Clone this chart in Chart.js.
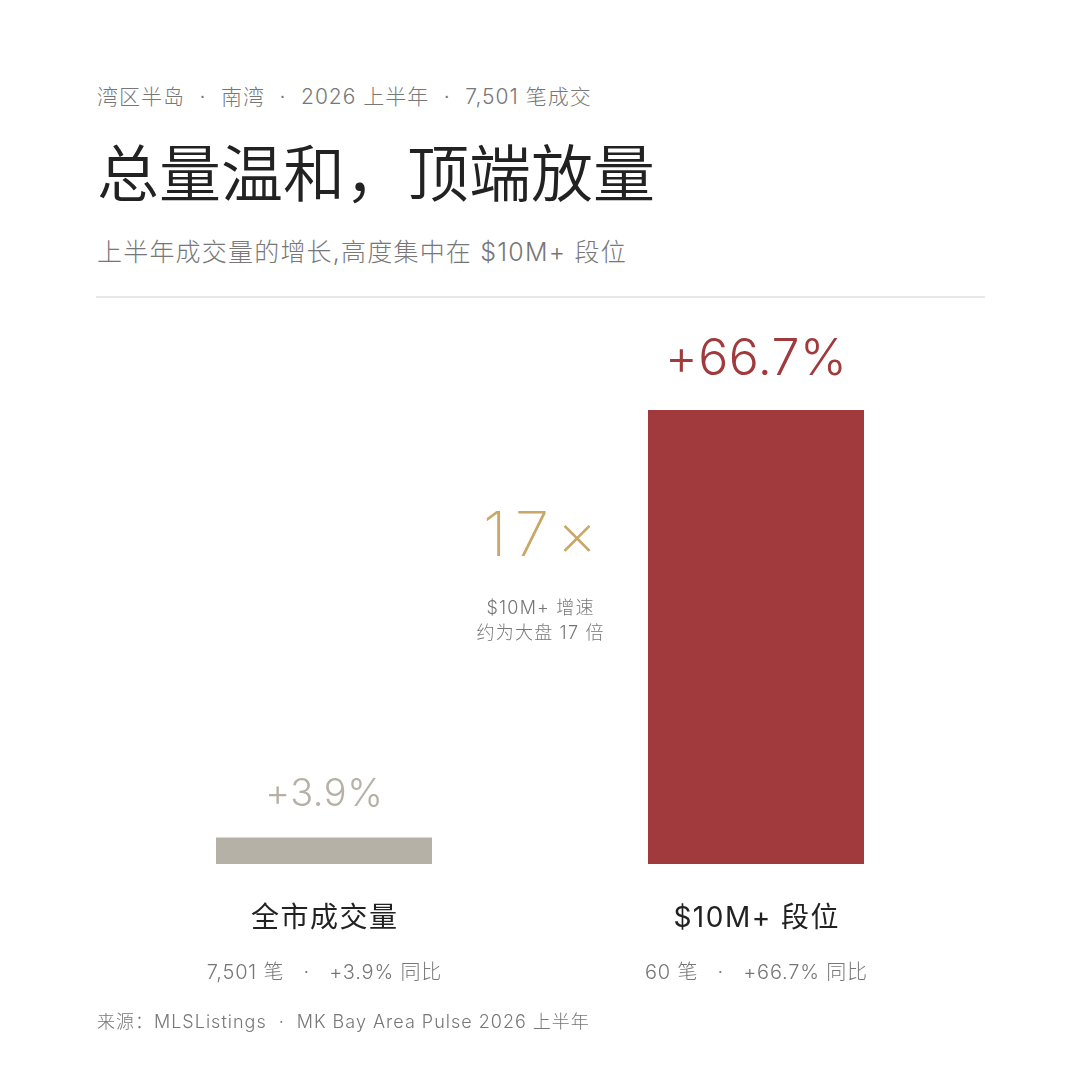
<!DOCTYPE html>
<html>
<head>
<meta charset="utf-8">
<script src="https://cdn.jsdelivr.net/npm/chart.js@4"></script>
<style>
    html, body { margin: 0; padding: 0; background: #fff; }
    body { width: 1080px; height: 1080px; position: relative; overflow: hidden;
           font-family: Inter, "Noto Sans CJK SC", sans-serif; font-weight: 300; }
    .txt { position: absolute; left: 97px; white-space: nowrap; }
    .sep { display: inline-block; width: 36px; text-align: center; }
    #kicker { top: 80px; font-size: 21px; color: #777; letter-spacing: 1px; }
    #title { top: 125px; font-size: 62px; color: #222; font-weight: 350; }
    #sub { top: 232px; font-size: 25px; color: #777; letter-spacing: 1.2px; }
    #rule { position: absolute; left: 96px; top: 296px; width: 889px; height: 2px; background: #e8e8e8; }
    #source { top: 1007px; font-size: 18px; color: #777; letter-spacing: 1px; }
    #chartWrap { position: absolute; left: 0; top: 0; width: 1080px; height: 1080px; }
</style>
</head>
<body>
<div class="txt" id="kicker">湾区半岛<span class="sep">·</span>南湾<span class="sep">·</span>2026 上半年<span class="sep">·</span>7,501 笔成交</div>
<div class="txt" id="title">总量温和，顶端放量</div>
<div class="txt" id="sub">上半年成交量的增长,高度集中在 $10M+ 段位</div>
<div id="rule"></div>
<div id="chartWrap"><canvas id="growthChart" width="1080" height="1080"></canvas></div>
<div class="txt" id="source">来源：MLSListings<span class="sep" style="width:30px">·</span>MK Bay Area Pulse 2026 上半年</div>

<script>
// Chart data
const categories = ['全市成交量', '$10M+ 段位'];
const growthPct = [3.9, 66.7];
const dealCounts = ['7,501', '60'];
const valueLabels = ['+3.9%', '+66.7%'];
const barColors = ['#b6b1a7', '#a03a3c'];
const labelColors = ['#b6b1a7', '#a03a3c'];
const ratioLabel = '17×';
const ratioNote = ['$10M+ 增速', '约为大盘 17 倍'];

const FONT = 'Inter, "Noto Sans CJK SC", sans-serif';

// centred text with letter spacing (canvas adds trailing spacing, so shift back)
function spacedText(ctx, text, x, y, spacing) {
    ctx.letterSpacing = spacing + 'px';
    ctx.fillText(text, x + spacing / 2, y);
    ctx.letterSpacing = '0px';
}

// draws value labels, category names and the middle annotation
const labelPlugin = {
    id: 'labels',
    afterDatasetsDraw(chart) {
        const ctx = chart.ctx;
        const meta = chart.getDatasetMeta(0);
        const xScale = chart.scales.x;
        ctx.save();
        ctx.textAlign = 'center';
        ctx.textBaseline = 'middle';

        meta.data.forEach((bar, i) => {
            const big = i === 1;
            ctx.fillStyle = labelColors[i];
            ctx.font = (big ? '300 50px ' : '300 38px ') + FONT;
            spacedText(ctx, valueLabels[i], bar.x, bar.y - (big ? 50 : 43), 0.5);

            const x = xScale.getPixelForValue(i);
            ctx.fillStyle = '#222';
            ctx.font = '400 28px ' + FONT;
            spacedText(ctx, categories[i], x, 919, 1.5);

            ctx.fillStyle = '#777';
            ctx.font = '300 20px ' + FONT;
            spacedText(ctx, dealCounts[i] + ' 笔   ·   ' + valueLabels[i] + ' 同比', x, 973, 0.8);
        });

        const mid = (chart.chartArea.left + chart.chartArea.right) / 2;
        ctx.fillStyle = '#c9a766';
        ctx.font = '200 62px ' + FONT;
        spacedText(ctx, ratioLabel, mid, 537, 8);
        ctx.fillStyle = '#777';
        ctx.font = '300 18px ' + FONT;
        spacedText(ctx, ratioNote[0], mid, 609, 1.2);
        spacedText(ctx, ratioNote[1], mid, 634, 1.2);
        ctx.restore();
    }
};

const chart = new Chart(document.getElementById('growthChart').getContext('2d'), {
    type: 'bar',
    data: {
        labels: categories,
        datasets: [{
            data: growthPct,
            backgroundColor: barColors,
            borderWidth: 0,
            categoryPercentage: 1,
            barPercentage: 0.5
        }]
    },
    options: {
        responsive: false,
        animation: false,
        layout: { padding: { left: 108, right: 108, top: 410, bottom: 216 } },
        plugins: { legend: { display: false }, tooltip: { enabled: false } },
        scales: {
            x: { display: false },
            y: { display: false, min: 0, max: 66.7 }
        }
    },
    plugins: [labelPlugin]
});
</script>
</body>
</html>
